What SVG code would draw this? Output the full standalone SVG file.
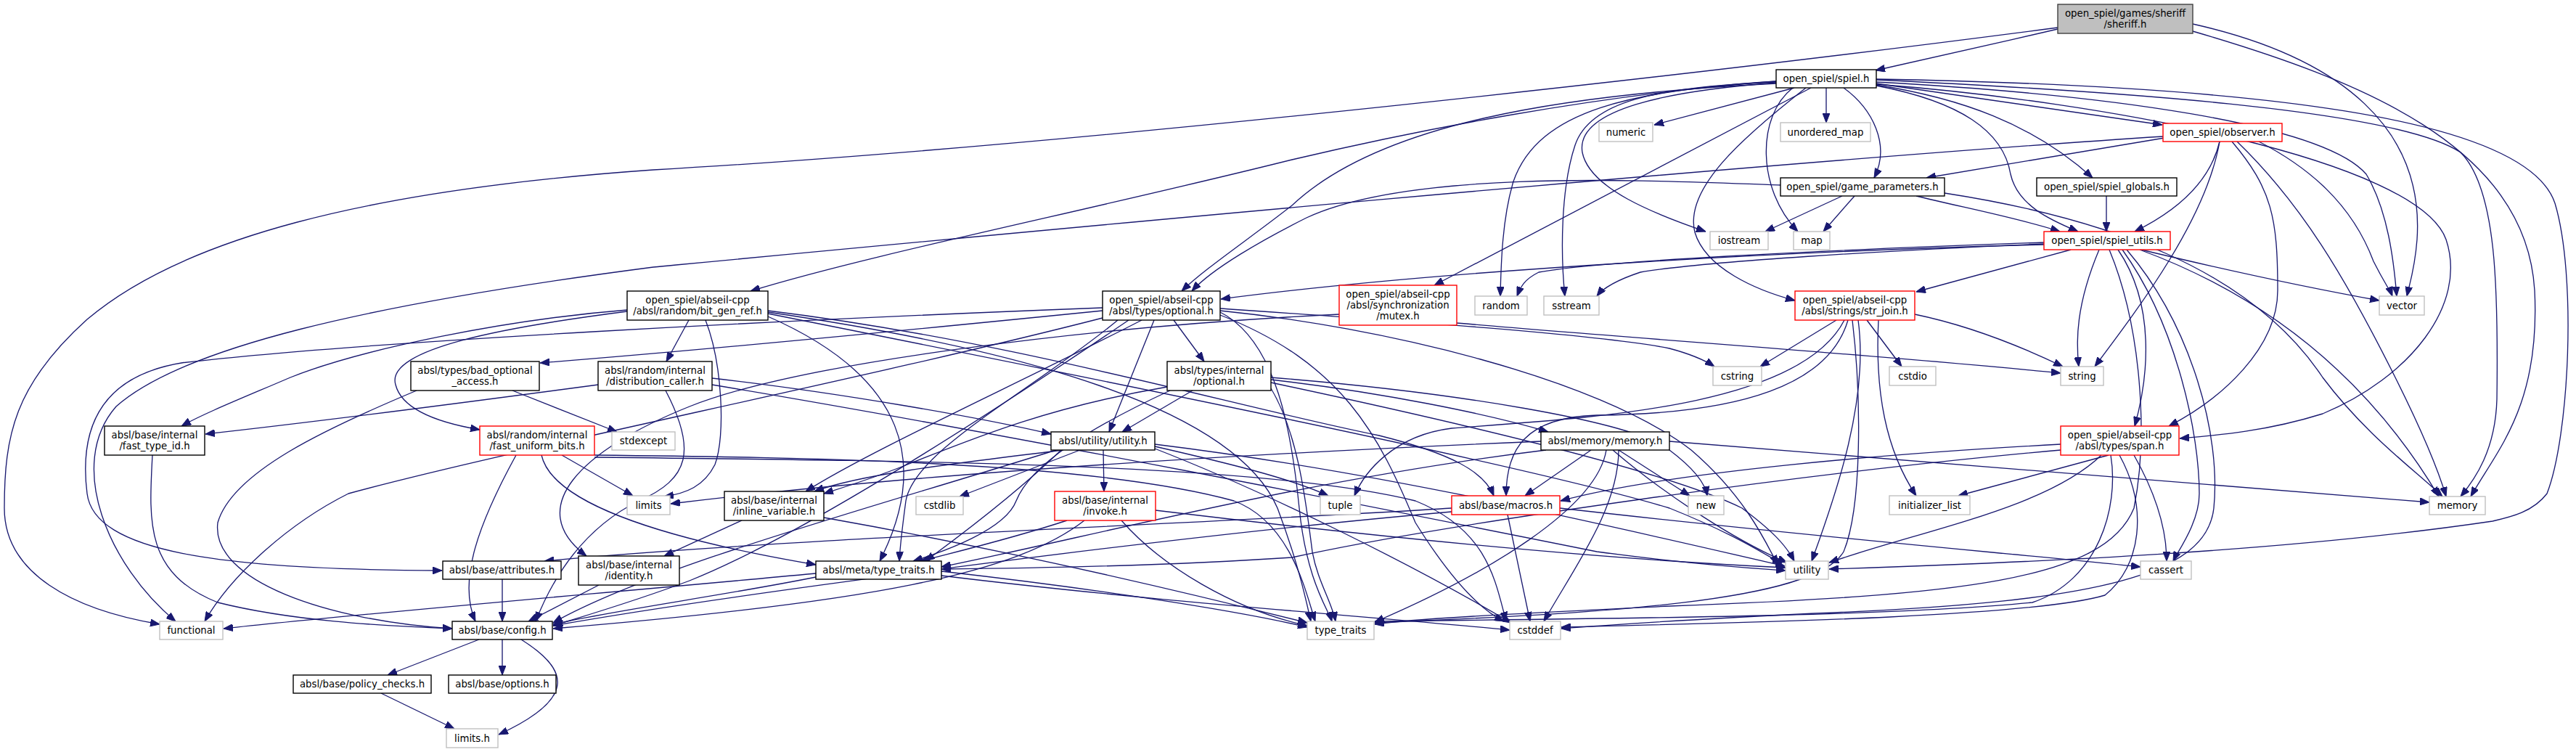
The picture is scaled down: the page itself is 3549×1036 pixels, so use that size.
<svg xmlns="http://www.w3.org/2000/svg" width="3549" height="1036" viewBox="0 0 3549 1036">
<style>
.n rect{fill:#fff;stroke:#000;stroke-width:1.4}
.s rect{stroke:#c0c0c0}
.r rect{stroke:#ff0000}
.root rect{fill:#bfbfbf;stroke:#404040}
text{font-family:"DejaVu Sans",sans-serif;font-size:13.3px;text-anchor:middle;fill:#000}
#edges path{fill:none;stroke:#191970;stroke-width:1.33;marker-end:url(#a)}
</style>
<defs>
<marker id="a" viewBox="0 0 13 10" refX="13" refY="5" markerWidth="13" markerHeight="10" markerUnits="userSpaceOnUse" orient="auto"><path d="M0,0 L13,5 L0,10 z" fill="#191970" stroke="#191970"/></marker>
</defs>
<rect width="3549" height="1036" fill="#fff"/>
<g id="edges">
<path d="M2835,40 C2750,60 2660,80 2584,97"/>
<path d="M2835,38 C2400,95 1500,200 900,234 C500,262 250,330 120,440 C20,530 6,600 6,700 C6,790 100,840 220,860"/>
<path d="M3021,33 C3230,80 3340,180 3330,330 C3327,370 3320,390 3316,408"/>
<path d="M3021,43 C3250,110 3480,200 3492,400 C3500,560 3440,620 3404,684"/>
<path d="M2472,121 L2279,172"/>
<path d="M2516,121 L2516,169"/>
<path d="M2447,114 C2300,125 2170,150 2180,210 C2190,260 2280,295 2350,319"/>
<path d="M2470,121 C2420,160 2420,260 2477,319"/>
<path d="M2540,121 C2580,150 2605,200 2582,245"/>
<path d="M2495,121 L1976,393"/>
<path d="M2447,112 C2250,125 2120,150 2085,250 C2070,300 2068,360 2067,408"/>
<path d="M2447,113 C2280,120 2190,140 2170,200 C2150,260 2150,350 2156,408"/>
<path d="M2488,121 C2400,190 2320,260 2335,320 C2350,370 2420,400 2473,414"/>
<path d="M2585,118 C2700,140 2760,180 2770,240 C2780,285 2830,305 2863,319"/>
<path d="M2585,115 L2979,172"/>
<path d="M2585,117 C2700,135 2800,170 2883,245"/>
<path d="M2585,110 C2900,125 3300,150 3390,210 C3440,260 3442,400 3440,550 C3438,620 3410,660 3390,684"/>
<path d="M2585,109 C3100,118 3480,160 3520,280 C3550,380 3540,600 3509,680 C3490,705 3460,712 3434,718 C3150,760 2800,775 2520,784"/>
<path d="M2585,113 C2900,130 3200,170 3260,240 C3290,290 3298,360 3302,408"/>
<path d="M2585,116 C2900,140 3330,220 3370,330 C3400,420 3320,520 3200,570 C3120,595 3050,600 3003,604"/>
<path d="M2447,115 C2150,130 1900,170 1780,283 C1720,330 1660,370 1628,401"/>
<path d="M2447,112 C2200,130 1950,180 1780,220 C1500,290 1200,350 1034,401"/>
<path d="M2982,190 L2654,245"/>
<path d="M3058,195 C3045,250 3000,290 2941,319"/>
<path d="M3058,195 C3040,300 2950,420 2886,505"/>
<path d="M3075,195 C3130,260 3138,300 3138,400 C3138,480 3060,550 2988,587"/>
<path d="M3082,195 C3170,280 3230,380 3300,520 C3340,600 3360,650 3370,684"/>
<path d="M2980,188 C2400,225 1300,330 900,368 C500,420 250,480 160,560 C90,640 150,780 242,856"/>
<path d="M3112,195 C3180,230 3240,280 3270,360 C3285,390 3293,400 3296,408"/>
<path d="M2538,270 L2432,319"/>
<path d="M2555,270 L2512,319"/>
<path d="M2640,270 C2700,285 2780,300 2838,319"/>
<path d="M2453,255 C2300,250 1950,230 1800,300 C1740,330 1670,370 1642,401"/>
<path d="M2679,266 C2900,300 3100,370 3200,520 C3260,600 3330,650 3365,684"/>
<path d="M2902,270 L2902,319"/>
<path d="M2816,337 C2500,345 2000,370 1682,412"/>
<path d="M2816,334 C2500,345 2200,360 2120,375 C2100,385 2095,395 2090,408"/>
<path d="M2816,336 C2600,345 2350,360 2260,375 C2230,385 2210,395 2200,408"/>
<path d="M2853,344 L2640,402"/>
<path d="M2892,344 C2860,420 2860,470 2864,505"/>
<path d="M2918,344 C2970,420 2960,520 2941,587"/>
<path d="M2950,344 C3100,380 3200,400 3278,414"/>
<path d="M2948,344 C3100,400 3250,500 3360,684"/>
<path d="M2924,344 C3000,450 3030,600 3030,680 C3030,720 3000,760 2994,773"/>
<path d="M2906,344 C2950,450 2960,600 2940,700 C2900,800 2700,820 2300,835 C2100,845 1950,852 1894,860"/>
<path d="M2930,344 C3020,450 3060,600 3050,700 C3040,790 2900,830 2500,845 C2300,855 2200,862 2151,866"/>
<path d="M2530,441 L2425,505"/>
<path d="M2572,441 L2620,505"/>
<path d="M2638,433 C2720,450 2790,480 2842,505"/>
<path d="M2588,441 C2583,540 2598,620 2640,683"/>
<path d="M2546,441 C2520,530 2400,570 2200,572 C2100,575 2075,620 2075,683"/>
<path d="M2541,441 C2480,560 2200,575 2000,590 C1920,600 1880,650 1866,683"/>
<path d="M2552,441 C2565,550 2565,700 2540,760 C2500,830 2200,845 1894,858"/>
<path d="M2560,441 C2575,550 2530,680 2496,773"/>
<path d="M2905,627 L2698,683"/>
<path d="M2940,627 C2970,680 2985,730 2985,773"/>
<path d="M2895,627 C2820,700 2650,730 2520,775"/>
<path d="M2839,612 C2600,625 2300,650 2150,690"/>
<path d="M2839,620 C2500,650 2000,720 1780,768 C1600,780 1400,783 1297,784"/>
<path d="M2920,627 C2960,700 2950,780 2900,820 C2800,850 2400,858 2151,864"/>
<path d="M2908,627 C2920,700 2890,800 2800,830 C2600,850 2200,852 1894,856"/>
<path d="M1519,424 C1100,440 500,470 250,500 C130,520 110,600 120,680 C130,760 300,785 609,786"/>
<path d="M1519,428 C1300,450 1000,480 744,500"/>
<path d="M1617,441 L1659,498"/>
<path d="M1590,441 L1528,595"/>
<path d="M1555,441 C1350,580 1100,740 950,800 C870,830 800,850 762,862"/>
<path d="M1573,441 C1400,530 1200,620 1110,677"/>
<path d="M1540,441 C1420,540 1260,620 1248,690 C1244,720 1240,750 1239,773"/>
<path d="M1519,438 C1200,520 700,620 480,680 C400,720 320,790 282,856"/>
<path d="M1681,430 C1760,470 1780,600 1790,700 C1800,800 1830,840 1835,856"/>
<path d="M1681,428 C1900,450 2200,520 2330,620 C2400,680 2430,740 2449,778"/>
<path d="M1681,434 C1850,500 1900,600 1950,720 C2000,800 2040,840 2072,856"/>
<path d="M1681,425 C1900,440 2200,460 2300,480 C2330,488 2350,497 2362,505"/>
<path d="M706,538 L850,595"/>
<path d="M574,538 C450,590 320,650 300,720 C290,800 450,855 623,866"/>
<path d="M824,530 C600,560 400,585 283,598"/>
<path d="M981,521 C1150,540 1350,575 1448,598"/>
<path d="M917,538 C960,620 950,660 880,690 C800,730 760,800 738,856"/>
<path d="M981,530 C1400,600 1900,700 2200,760 C2350,780 2420,783 2460,786"/>
<path d="M1643,538 L1546,595"/>
<path d="M1751,523 C1900,540 2050,570 2133,595"/>
<path d="M1608,533 C1450,560 1350,600 1250,640 C1200,660 1160,672 1135,680"/>
<path d="M1612,538 C1500,590 1420,640 1400,690 C1385,730 1300,760 1258,773"/>
<path d="M1751,520 C2000,540 2250,580 2300,620 C2340,650 2350,670 2352,683"/>
<path d="M1751,527 C2000,580 2300,650 2400,700 C2440,730 2460,750 2472,773"/>
<path d="M1751,535 C1790,600 1800,700 1808,760 C1815,800 1835,830 1840,856"/>
<path d="M1591,615 C1700,640 1780,660 1830,683"/>
<path d="M1520,620 L1521,677"/>
<path d="M1488,620 L1322,684"/>
<path d="M1465,620 C1300,640 1180,655 1122,677"/>
<path d="M1455,620 C1200,700 900,780 762,858"/>
<path d="M1462,620 C1400,680 1320,740 1275,773"/>
<path d="M1591,612 C1900,650 2200,720 2459,780"/>
<path d="M1591,618 C1750,680 1950,780 2082,858"/>
<path d="M1470,717 C1400,740 1320,760 1268,773"/>
<path d="M1545,717 C1600,780 1700,840 1801,862"/>
<path d="M1592,703 C1900,740 2200,770 2460,782"/>
<path d="M1494,717 C1400,790 1200,830 762,866"/>
<path d="M1022,717 L915,766"/>
<path d="M1135,713 C1400,760 1650,820 1801,858"/>
<path d="M825,806 L728,856"/>
<path d="M2192,620 L2101,683"/>
<path d="M2230,620 L2328,683"/>
<path d="M2300,608 C2700,640 3100,670 3347,692"/>
<path d="M2222,620 C2280,670 2380,740 2462,775"/>
<path d="M2123,608 C1600,630 1200,660 924,694"/>
<path d="M2130,620 C1800,660 1500,740 1297,781"/>
<path d="M2213,620 C2200,700 2050,790 1894,857"/>
<path d="M2230,620 C2230,700 2170,780 2127,856"/>
<path d="M2077,709 L2108,856"/>
<path d="M2000,700 C1700,720 1100,740 750,773"/>
<path d="M2000,705 C1600,740 1000,820 762,862"/>
<path d="M2149,700 C2500,740 2800,765 2949,781"/>
<path d="M1124,790 C800,820 500,845 308,866"/>
<path d="M1124,795 C1000,820 850,840 762,860"/>
<path d="M1297,787 C1500,810 1700,840 1801,864"/>
<path d="M1297,793 C1600,830 1900,850 2080,868"/>
<path d="M692,798 L692,856"/>
<path d="M660,881 L534,930"/>
<path d="M692,881 L692,930"/>
<path d="M718,881 C780,920 800,960 687,1012"/>
<path d="M525,955 L626,1004"/>
<path d="M210,627 C205,720 200,790 300,830 C400,855 520,862 623,866"/>
<path d="M774,627 L872,683"/>
<path d="M711,627 C660,720 630,800 655,856"/>
<path d="M819,627 C1100,630 1500,635 1700,690 C1780,720 1800,820 1812,856"/>
<path d="M819,630 C1300,635 1750,640 1950,690 C2050,730 2060,800 2075,856"/>
<path d="M746,627 C760,690 900,740 1124,778"/>
<path d="M949,441 L918,498"/>
<path d="M972,441 C995,500 1000,600 985,640 C970,670 945,680 915,684"/>
<path d="M864,427 C700,440 500,480 400,520 C330,550 280,570 250,587"/>
<path d="M864,429 C700,450 530,480 545,530 C555,570 620,585 661,592"/>
<path d="M1058,428 C1400,470 1700,560 1900,600 C2000,625 2045,650 2058,683"/>
<path d="M1058,436 C1250,520 1280,640 1212,773"/>
<path d="M1058,432 C1500,520 2100,640 2300,700 C2400,740 2440,770 2455,776"/>
<path d="M1058,430 C1400,480 1700,560 1760,700 C1790,780 1800,830 1806,856"/>
<path d="M1845,433 C1500,450 1100,500 950,560 C800,620 720,700 808,766"/>
<path d="M2007,445 C2300,470 2600,490 2839,514"/>
</g>
<g id="sheriff_h" class="n root"><rect x="2835" y="6" width="186" height="40"/><text x="2928" y="23">open_spiel/games/sheriff</text><text x="2928" y="38">/sheriff.h</text></g>
<g id="spiel_h" class="n"><rect x="2447" y="96" width="138" height="25"/><text x="2516" y="113">open_spiel/spiel.h</text></g>
<g id="numeric" class="n s"><rect x="2203" y="169" width="74" height="26"/><text x="2240" y="186.5">numeric</text></g>
<g id="unordered_map" class="n s"><rect x="2453" y="169" width="124" height="26"/><text x="2515" y="186.5">unordered_map</text></g>
<g id="observer_h" class="n r"><rect x="2980" y="170" width="164" height="25"/><text x="3062" y="187">open_spiel/observer.h</text></g>
<g id="game_parameters_h" class="n"><rect x="2453" y="245" width="226" height="25"/><text x="2566" y="262">open_spiel/game_parameters.h</text></g>
<g id="spiel_globals_h" class="n"><rect x="2806" y="245" width="193" height="25"/><text x="2902.5" y="262">open_spiel/spiel_globals.h</text></g>
<g id="iostream" class="n s"><rect x="2356" y="319" width="80" height="25"/><text x="2396" y="336">iostream</text></g>
<g id="map" class="n s"><rect x="2471" y="319" width="50" height="25"/><text x="2496" y="336">map</text></g>
<g id="spiel_utils_h" class="n r"><rect x="2816" y="319" width="174" height="25"/><text x="2903" y="336">open_spiel/spiel_utils.h</text></g>
<g id="bit_gen_ref_h" class="n"><rect x="864" y="401" width="194" height="40"/><text x="961" y="418">open_spiel/abseil-cpp</text><text x="961" y="433">/absl/random/bit_gen_ref.h</text></g>
<g id="types_optional_h" class="n"><rect x="1519" y="401" width="162" height="40"/><text x="1600" y="418">open_spiel/abseil-cpp</text><text x="1600" y="433">/absl/types/optional.h</text></g>
<g id="mutex_h" class="n r"><rect x="1845" y="393" width="162" height="55"/><text x="1926" y="410">open_spiel/abseil-cpp</text><text x="1926" y="425">/absl/synchronization</text><text x="1926" y="440">/mutex.h</text></g>
<g id="random" class="n s"><rect x="2032" y="408" width="72" height="26"/><text x="2068" y="425.5">random</text></g>
<g id="sstream" class="n s"><rect x="2127" y="408" width="76" height="26"/><text x="2165" y="425.5">sstream</text></g>
<g id="str_join_h" class="n r"><rect x="2473" y="401" width="165" height="40"/><text x="2555.5" y="418">open_spiel/abseil-cpp</text><text x="2555.5" y="433">/absl/strings/str_join.h</text></g>
<g id="vector" class="n s"><rect x="3278" y="408" width="62" height="26"/><text x="3309" y="425.5">vector</text></g>
<g id="bad_optional_access_h" class="n"><rect x="566" y="498" width="177" height="40"/><text x="654.5" y="515">absl/types/bad_optional</text><text x="654.5" y="530">_access.h</text></g>
<g id="distribution_caller_h" class="n"><rect x="824" y="498" width="157" height="40"/><text x="902.5" y="515">absl/random/internal</text><text x="902.5" y="530">/distribution_caller.h</text></g>
<g id="internal_optional_h" class="n"><rect x="1608" y="498" width="143" height="40"/><text x="1679.5" y="515">absl/types/internal</text><text x="1679.5" y="530">/optional.h</text></g>
<g id="cstring" class="n s"><rect x="2360" y="505" width="67" height="26"/><text x="2393.5" y="522.5">cstring</text></g>
<g id="cstdio" class="n s"><rect x="2603" y="505" width="64" height="26"/><text x="2635" y="522.5">cstdio</text></g>
<g id="string" class="n s"><rect x="2839" y="505" width="59" height="26"/><text x="2868.5" y="522.5">string</text></g>
<g id="fast_type_id_h" class="n"><rect x="144" y="587" width="138" height="40"/><text x="213" y="604">absl/base/internal</text><text x="213" y="619">/fast_type_id.h</text></g>
<g id="fast_uniform_bits_h" class="n r"><rect x="661" y="587" width="158" height="40"/><text x="740" y="604">absl/random/internal</text><text x="740" y="619">/fast_uniform_bits.h</text></g>
<g id="stdexcept" class="n s"><rect x="843" y="595" width="87" height="25"/><text x="886.5" y="612">stdexcept</text></g>
<g id="utility_h" class="n"><rect x="1448" y="595" width="143" height="25"/><text x="1519.5" y="612">absl/utility/utility.h</text></g>
<g id="memory_h" class="n"><rect x="2123" y="595" width="177" height="25"/><text x="2211.5" y="612">absl/memory/memory.h</text></g>
<g id="span_h" class="n r"><rect x="2839" y="587" width="163" height="40"/><text x="2920.5" y="604">open_spiel/abseil-cpp</text><text x="2920.5" y="619">/absl/types/span.h</text></g>
<g id="limits" class="n s"><rect x="864" y="683" width="59" height="26"/><text x="893.5" y="700.5">limits</text></g>
<g id="inline_variable_h" class="n"><rect x="998" y="677" width="137" height="40"/><text x="1066.5" y="694">absl/base/internal</text><text x="1066.5" y="709">/inline_variable.h</text></g>
<g id="cstdlib" class="n s"><rect x="1262" y="684" width="65" height="25"/><text x="1294.5" y="701">cstdlib</text></g>
<g id="invoke_h" class="n r"><rect x="1453" y="677" width="139" height="40"/><text x="1522.5" y="694">absl/base/internal</text><text x="1522.5" y="709">/invoke.h</text></g>
<g id="tuple" class="n s"><rect x="1819" y="683" width="55" height="26"/><text x="1846.5" y="700.5">tuple</text></g>
<g id="macros_h" class="n r"><rect x="2000" y="683" width="149" height="26"/><text x="2074.5" y="700.5">absl/base/macros.h</text></g>
<g id="new" class="n s"><rect x="2326" y="683" width="49" height="26"/><text x="2350.5" y="700.5">new</text></g>
<g id="initializer_list" class="n s"><rect x="2603" y="683" width="111" height="26"/><text x="2658.5" y="700.5">initializer_list</text></g>
<g id="memory" class="n s"><rect x="3347" y="684" width="77" height="25"/><text x="3385.5" y="701">memory</text></g>
<g id="attributes_h" class="n"><rect x="610" y="773" width="163" height="25"/><text x="691.5" y="790">absl/base/attributes.h</text></g>
<g id="identity_h" class="n"><rect x="797" y="766" width="139" height="40"/><text x="866.5" y="783">absl/base/internal</text><text x="866.5" y="798">/identity.h</text></g>
<g id="meta_type_traits_h" class="n"><rect x="1124" y="773" width="173" height="25"/><text x="1210.5" y="790">absl/meta/type_traits.h</text></g>
<g id="utility" class="n s"><rect x="2460" y="773" width="59" height="25"/><text x="2489.5" y="790">utility</text></g>
<g id="cassert" class="n s"><rect x="2949" y="773" width="70" height="25"/><text x="2984" y="790">cassert</text></g>
<g id="functional" class="n s"><rect x="220" y="856" width="87" height="25"/><text x="263.5" y="873">functional</text></g>
<g id="config_h" class="n"><rect x="623" y="856" width="138" height="25"/><text x="692" y="873">absl/base/config.h</text></g>
<g id="type_traits" class="n s"><rect x="1801" y="856" width="92" height="25"/><text x="1847" y="873">type_traits</text></g>
<g id="cstddef" class="n s"><rect x="2080" y="856" width="70" height="25"/><text x="2115" y="873">cstddef</text></g>
<g id="policy_checks_h" class="n"><rect x="404" y="930" width="190" height="25"/><text x="499" y="947">absl/base/policy_checks.h</text></g>
<g id="options_h" class="n"><rect x="618" y="930" width="148" height="25"/><text x="692" y="947">absl/base/options.h</text></g>
<g id="limits_h" class="n s"><rect x="615" y="1004" width="71" height="26"/><text x="650.5" y="1021.5">limits.h</text></g>
</svg>
